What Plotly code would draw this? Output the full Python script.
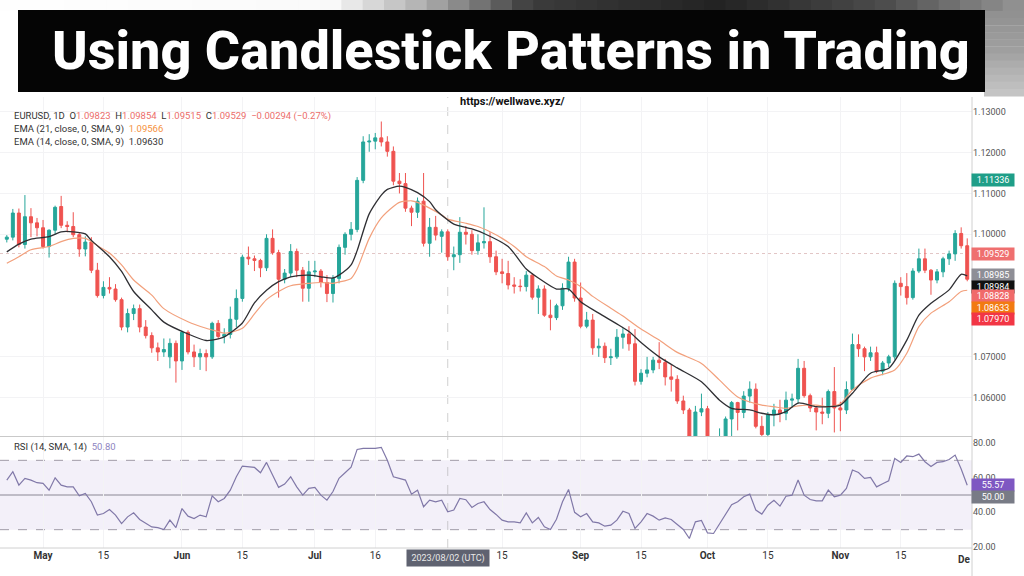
import plotly.graph_objects as go
import pandas as pd

# ------------------------------------------------------------------ data
dates = pd.bdate_range("2023-04-21", "2023-11-30")  # daily EURUSD sessions

opens = [1.0988, 1.0993, 1.1052, 1.0975, 1.1043, 1.1028, 1.1016, 1.0970, 1.1010, 1.1068,
         1.1022, 1.1019, 1.0999, 1.0964, 1.0981, 1.0912, 1.0850, 1.0870, 1.0866, 1.0840,
         1.0773, 1.0806, 1.0818, 1.0773, 1.0752, 1.0722, 1.0712, 1.0700, 1.0733, 1.0690,
         1.0760, 1.0712, 1.0700, 1.0708, 1.0700, 1.0782, 1.0750, 1.0755, 1.0792, 1.0843,
         1.0944, 1.0940, 1.0936, 1.0918, 1.0990, 1.0955, 1.0890, 1.0905, 1.0958, 1.0912,
         1.0868, 1.0908, 1.0910, 1.0882, 1.0855, 1.0892, 1.0968, 1.1000, 1.1012, 1.1132,
         1.1226, 1.1228, 1.1236, 1.1226, 1.1203, 1.1130, 1.1124, 1.1064, 1.1054, 1.1081,
         1.0978, 1.1017, 1.0995, 1.1006, 1.0945, 1.0950, 1.1005, 1.1000, 1.0960, 1.0979,
         1.0982, 1.0945, 1.0908, 1.0904, 1.0876, 1.0873, 1.0872, 1.0900, 1.0846, 1.0866,
         1.0802, 1.0796, 1.0825, 1.0868, 1.0932, 1.0844, 1.0775, 1.0790, 1.0722, 1.0726,
         1.0698, 1.0700, 1.0748, 1.0756, 1.0732, 1.0640, 1.0660, 1.0668, 1.0692, 1.0686,
         1.0651, 1.0645, 1.0592, 1.0570, 1.0505, 1.0565, 1.0573, 1.0478, 1.0470, 1.0505,
         1.0548, 1.0588, 1.0564, 1.0604, 1.0621, 1.0530, 1.0510, 1.0558, 1.0570, 1.0562,
         1.0594, 1.0597, 1.0672, 1.0605, 1.0575, 1.0565, 1.0562, 1.0615, 1.0575, 1.0570,
         1.0620, 1.0730, 1.0720, 1.0700, 1.0710, 1.0665, 1.0685, 1.0700, 1.0880, 1.0872,
         1.0845, 1.0910, 1.0940, 1.0912, 1.0888, 1.0908, 1.0940, 1.0952, 1.1002, 1.0972]

highs = [1.0998, 1.1062, 1.1063, 1.1096, 1.1064, 1.1040, 1.1035, 1.1012, 1.1070, 1.1094,
         1.1032, 1.1054, 1.1003, 1.0995, 1.0993, 1.0930, 1.0885, 1.0895, 1.0878, 1.0845,
         1.0818, 1.0828, 1.0828, 1.0790, 1.0760, 1.0735, 1.0745, 1.0745, 1.0740, 1.0764,
         1.0765, 1.0730, 1.0720, 1.0718, 1.0786, 1.0790, 1.0770, 1.0823, 1.0865, 1.0950,
         1.0970, 1.0948, 1.0940, 1.1000, 1.1012, 1.0962, 1.0915, 1.0976, 1.0965, 1.0920,
         1.0935, 1.0935, 1.0915, 1.0900, 1.0900, 1.0975, 1.1005, 1.1030, 1.1140, 1.1240,
         1.1245, 1.1248, 1.1276, 1.1240, 1.1215, 1.1150, 1.1150, 1.1070, 1.1090, 1.1150,
         1.1040, 1.1045, 1.1012, 1.1012, 1.0970, 1.1042, 1.1020, 1.1010, 1.1000, 1.1066,
         1.1005, 1.0960, 1.0940, 1.0935, 1.0895, 1.0890, 1.0910, 1.0905, 1.0875, 1.0875,
         1.0840, 1.0830, 1.0880, 1.0945, 1.0940, 1.0882, 1.0810, 1.0805, 1.0745, 1.0735,
         1.0720, 1.0768, 1.0770, 1.0775, 1.0768, 1.0670, 1.0700, 1.0700, 1.0736, 1.0695,
         1.0680, 1.0655, 1.0605, 1.0575, 1.0580, 1.0610, 1.0580, 1.0490, 1.0525, 1.0554,
         1.0592, 1.0590, 1.0616, 1.0640, 1.0635, 1.0555, 1.0565, 1.0585, 1.0595, 1.0615,
         1.0610, 1.0695, 1.0690, 1.0610, 1.0580, 1.0600, 1.0620, 1.0675, 1.0590, 1.0640,
         1.0757, 1.0755, 1.0725, 1.0725, 1.0725, 1.0690, 1.0705, 1.0887, 1.0895, 1.0905,
         1.0917, 1.0965, 1.0965, 1.0915, 1.0915, 1.0945, 1.0960, 1.1010, 1.1017, 1.0990]

lows = [1.0980, 1.0985, 1.0968, 1.0965, 1.0993, 1.0995, 1.0965, 1.0943, 1.1000, 1.1015,
        1.1005, 1.0993, 1.0945, 1.0946, 1.0905, 1.0845, 1.0843, 1.0855, 1.0835, 1.0765,
        1.0760, 1.0790, 1.0760, 1.0745, 1.0710, 1.0690, 1.0700, 1.0672, 1.0637, 1.0668,
        1.0706, 1.0675, 1.0668, 1.0665, 1.0695, 1.0745, 1.0733, 1.0745, 1.0773, 1.0835,
        1.0925, 1.0910, 1.0895, 1.0910, 1.0950, 1.0845, 1.0880, 1.0895, 1.0895, 1.0835,
        1.0835, 1.0895, 1.0870, 1.0834, 1.0833, 1.0880, 1.0950, 1.0985, 1.1005, 1.1125,
        1.1202, 1.1208, 1.1215, 1.1190, 1.1120, 1.1100, 1.1055, 1.1020, 1.1040, 1.0970,
        1.0945, 1.0985, 1.0955, 1.0935, 1.0912, 1.0930, 1.0975, 1.0950, 1.0950, 1.0965,
        1.0930, 1.0900, 1.0880, 1.0865, 1.0855, 1.0860, 1.0860, 1.0840, 1.0805, 1.0798,
        1.0765, 1.0790, 1.0815, 1.0860, 1.0835, 1.0770, 1.0770, 1.0705, 1.0700, 1.0685,
        1.0680, 1.0695, 1.0720, 1.0715, 1.0630, 1.0632, 1.0650, 1.0660, 1.0670, 1.0630,
        1.0615, 1.0585, 1.0560, 1.0490, 1.0495, 1.0555, 1.0475, 1.0448, 1.0465, 1.0492,
        1.0482, 1.0520, 1.0550, 1.0588, 1.0525, 1.0495, 1.0505, 1.0530, 1.0540, 1.0545,
        1.0575, 1.0585, 1.0600, 1.0565, 1.0520, 1.0535, 1.0550, 1.0515, 1.0518, 1.0560,
        1.0618, 1.0700, 1.0665, 1.0690, 1.0660, 1.0655, 1.0675, 1.0693, 1.0850, 1.0828,
        1.0840, 1.0905, 1.0905, 1.0852, 1.0880, 1.0895, 1.0925, 1.0935, 1.0965, 1.0885]

closes = [1.0993, 1.1052, 1.0975, 1.1043, 1.1028, 1.1016, 1.0970, 1.1010, 1.1066, 1.1022,
          1.1019, 1.0999, 1.0964, 1.0981, 1.0912, 1.0850, 1.0870, 1.0866, 1.0840, 1.0773,
          1.0806, 1.0818, 1.0773, 1.0752, 1.0722, 1.0712, 1.0718, 1.0733, 1.0690, 1.0760,
          1.0712, 1.0700, 1.0708, 1.0700, 1.0782, 1.0750, 1.0755, 1.0792, 1.0843, 1.0944,
          1.0940, 1.0936, 1.0918, 1.0990, 1.0955, 1.0890, 1.0905, 1.0958, 1.0912, 1.0868,
          1.0908, 1.0910, 1.0882, 1.0855, 1.0892, 1.0968, 1.1000, 1.1012, 1.1132, 1.1226,
          1.1228, 1.1236, 1.1226, 1.1203, 1.1130, 1.1124, 1.1064, 1.1054, 1.1081, 1.0978,
          1.1017, 1.0998, 1.1006, 1.0945, 1.0950, 1.1005, 1.1000, 1.0960, 1.0979, 1.0982,
          1.0945, 1.0908, 1.0904, 1.0876, 1.0873, 1.0872, 1.0900, 1.0846, 1.0866, 1.0802,
          1.0796, 1.0825, 1.0868, 1.0932, 1.0844, 1.0775, 1.0790, 1.0722, 1.0726, 1.0698,
          1.0700, 1.0748, 1.0756, 1.0732, 1.0640, 1.0660, 1.0668, 1.0692, 1.0686, 1.0651,
          1.0645, 1.0592, 1.0570, 1.0505, 1.0565, 1.0573, 1.0478, 1.0470, 1.0505, 1.0548,
          1.0588, 1.0564, 1.0604, 1.0621, 1.0530, 1.0510, 1.0558, 1.0570, 1.0562, 1.0594,
          1.0597, 1.0672, 1.0605, 1.0575, 1.0565, 1.0562, 1.0615, 1.0575, 1.0570, 1.0620,
          1.0730, 1.0720, 1.0700, 1.0710, 1.0665, 1.0685, 1.0700, 1.0880, 1.0872, 1.0845,
          1.0910, 1.0940, 1.0912, 1.0888, 1.0908, 1.0940, 1.0952, 1.1002, 1.0972, 1.0890]

rsi14 = [58.6, 63.4, 55.7, 59.6, 58.6, 57.1, 56.7, 52.8, 59.9, 55.7,
         54.7, 54.7, 49.5, 50.9, 46.1, 38.4, 39.3, 41.6, 38.4, 33.5,
         37.4, 39.7, 35.9, 33.9, 31.6, 31.2, 30.1, 35.5, 31.2, 42.2,
         37.8, 36.4, 38.4, 37.4, 49.5, 46.1, 48.0, 52.8, 60.5, 66.7,
         66.3, 65.9, 62.8, 68.8, 61.5, 54.4, 56.3, 60.5, 54.7, 49.9,
         53.8, 54.4, 49.9, 47.0, 52.0, 59.6, 62.8, 66.0, 76.3, 76.9,
         76.9, 76.9, 77.5, 70.0, 60.5, 59.6, 58.6, 50.5, 52.8, 43.2,
         47.0, 46.1, 47.0, 40.3, 41.3, 48.0, 47.3, 42.8, 45.1, 46.1,
         41.6, 38.8, 35.5, 34.5, 34.5, 34.0, 39.7, 33.9, 37.0, 31.6,
         30.1, 36.0, 46.1, 53.2, 40.0, 37.4, 39.3, 34.5, 33.9, 32.0,
         32.6, 35.5, 40.6, 39.3, 30.7, 34.5, 39.3, 37.8, 35.5, 36.8,
         35.9, 33.0, 30.1, 24.9, 34.5, 35.3, 28.1, 27.8, 33.5, 39.3,
         44.4, 46.1, 49.0, 50.5, 41.3, 39.0, 44.1, 47.0, 43.6, 49.3,
         49.9, 58.6, 49.9, 47.4, 46.6, 46.6, 52.8, 49.0, 49.9, 53.8,
         64.4, 63.0, 59.6, 60.1, 54.7, 56.5, 58.2, 71.1, 68.8, 72.5,
         72.1, 73.6, 69.2, 66.5, 68.8, 69.2, 70.5, 73.0, 65.0, 55.6]

# EMA values at selected sessions (index into dates)
ema14_idx = [0, 2, 4, 7, 9, 11, 13, 14, 17, 19, 21, 24, 26, 30, 33, 35, 36, 39, 41, 43,
             45, 47, 50, 52, 54, 55, 57, 58, 60, 62, 63, 65, 66, 68, 70, 71, 73, 74, 77, 79,
             83, 86, 88, 91, 93, 95, 98, 103, 105, 108, 111, 115, 118, 120, 123, 125, 127, 129, 131, 134,
             136, 138, 140, 143, 146, 149, 151, 153, 156, 158, 159]
ema14_val = [1.0957, 1.0976, 1.0988, 1.0994, 1.1006, 1.1006, 1.1001, 1.0985, 1.0945, 1.0909,
             1.0860, 1.0815, 1.0785, 1.0756, 1.0740, 1.0744, 1.0749, 1.0783, 1.0832, 1.0863,
             1.0884, 1.0896, 1.0900, 1.0896, 1.0893, 1.0900, 1.0925, 1.0960, 1.1050, 1.1096,
             1.1110, 1.1118, 1.1115, 1.1102, 1.1080, 1.1060, 1.1035, 1.1025, 1.1013, 1.1002,
             1.0970, 1.0915, 1.0893, 1.0866, 1.0866, 1.0835, 1.0807, 1.0762, 1.0735, 1.0700,
             1.0673, 1.0639, 1.0594, 1.0574, 1.0570, 1.0562, 1.0558, 1.0566, 1.0587, 1.0578,
             1.0578, 1.0582, 1.0611, 1.0660, 1.0672, 1.0741, 1.0802, 1.0831, 1.0864, 1.0902,
             1.0898]

ema21_idx = [0, 2, 4, 7, 9, 11, 13, 15, 17, 19, 21, 24, 26, 30, 33, 35, 36, 39, 41, 43,
             45, 47, 50, 52, 54, 55, 57, 58, 60, 62, 64, 65, 67, 68, 70, 72, 73, 76, 78, 80,
             82, 84, 86, 89, 91, 93, 95, 97, 100, 102, 105, 108, 111, 115, 118, 121, 125, 127, 129, 131,
             134, 136, 138, 140, 143, 147, 149, 151, 153, 156, 158, 159]
ema21_val = [1.0929, 1.0945, 1.0962, 1.0970, 1.0982, 1.0990, 1.0990, 1.0972, 1.0954, 1.0925,
             1.0888, 1.0851, 1.0818, 1.0786, 1.0770, 1.0762, 1.0758, 1.0770, 1.0805, 1.0840,
             1.0860, 1.0874, 1.0880, 1.0882, 1.0880, 1.0883, 1.0892, 1.0915, 1.0990, 1.1040,
             1.1068, 1.1078, 1.1082, 1.1078, 1.1064, 1.1047, 1.1037, 1.1027, 1.1019, 1.1006,
             1.0990, 1.0970, 1.0945, 1.0921, 1.0898, 1.0888, 1.0872, 1.0848, 1.0819, 1.0800,
             1.0768, 1.0741, 1.0711, 1.0684, 1.0643, 1.0602, 1.0582, 1.0578, 1.0574, 1.0580,
             1.0582, 1.0578, 1.0585, 1.0619, 1.0648, 1.0668, 1.0709, 1.0774, 1.0807, 1.0835,
             1.0860, 1.0863]

tick_dates = ["2023-05-01", "2023-05-15", "2023-06-01", "2023-06-15", "2023-07-03", "2023-07-17",
              "2023-08-15", "2023-09-01", "2023-09-15", "2023-10-02", "2023-10-16", "2023-11-01",
              "2023-11-15"]
tick_text = ["May", "15", "Jun", "15", "Jul", "16", "15", "Sep", "15", "Oct", "15", "Nov", "15"]
month_ticks = ["May", "Jun", "Jul", "Sep", "Oct", "Nov"]

price_ticks = [1.06, 1.07, 1.10, 1.11, 1.12, 1.13]
rsi_ticks = [20, 40, 60, 80]

price_labels = [1.11336, 1.09529, 1.08985, 1.08984, 1.08828, 1.08633, 1.07970]
rsi_labels = [55.57, 50.00]
last_price = 1.09529
crosshair_date = "2023-08-02"

# ------------------------------------------------------------------ geometry helpers
W, H = 1024, 576
ML, MR, MT, MB = 0, 52, 97, 28
PW, PH = W - ML - MR, H - MT - MB


def px_x(p):
    return (p - ML) / PW


def px_y(p):
    return (H - MB - p) / PH


xs = dates + pd.Timedelta(hours=12)
x_start = pd.Timestamp("2023-04-20 09:00")
x_end = pd.Timestamp("2023-12-01 07:00")

GREEN = "#26a69a"
RED = "#ef5350"

fig = go.Figure()

fig.add_trace(go.Candlestick(
    x=xs, open=opens, high=highs, low=lows, close=closes,
    increasing=dict(line=dict(color=GREEN, width=1), fillcolor=GREEN),
    decreasing=dict(line=dict(color=RED, width=1), fillcolor=RED),
    whiskerwidth=0, showlegend=False, hoverinfo="skip",
    xaxis="x", yaxis="y"))

fig.add_trace(go.Scatter(
    x=[xs[i] for i in ema21_idx], y=ema21_val, mode="lines",
    line=dict(color="#f2a07c", width=1.2, shape="spline", smoothing=0.7),
    showlegend=False, hoverinfo="skip", xaxis="x", yaxis="y"))

fig.add_trace(go.Scatter(
    x=[xs[i] for i in ema14_idx], y=ema14_val, mode="lines",
    line=dict(color="#2f2f33", width=1.3, shape="spline", smoothing=0.7),
    showlegend=False, hoverinfo="skip", xaxis="x", yaxis="y"))

fig.add_trace(go.Scatter(
    x=xs, y=rsi14, mode="lines",
    line=dict(color="#8078a8", width=1.2),
    showlegend=False, hoverinfo="skip", xaxis="x2", yaxis="y2"))

# ------------------------------------------------------------------ shapes
shapes = []


def gray(v):
    v = int(max(0, min(255, v)))
    return f"rgb({v},{v},{v})"


def interp(stops, p):
    for (a, va), (b, vb) in zip(stops, stops[1:]):
        if a <= p <= b:
            return va + (vb - va) * (p - a) / (b - a)
    return stops[-1][1]


# banner background: top band gradient
top_stops = [(0, 255), (330, 250), (430, 170), (530, 60), (720, 35), (880, 75), (1024, 150)]
n = 48
for i in range(n):
    a = W * i / n
    b = W * (i + 1) / n
    shapes.append(dict(type="rect", xref="paper", yref="paper",
                       x0=px_x(a), x1=px_x(b) + 0.001, y0=px_y(11), y1=px_y(0),
                       fillcolor=gray(interp(top_stops, (a + b) / 2)), line=dict(width=0),
                       layer="below"))
# right side block
side_stops = [(0, 140), (50, 160), (97, 200)]
m = 12
for i in range(m):
    a = 11 + (96 - 11) * i / m
    b = 11 + (96 - 11) * (i + 1) / m
    shapes.append(dict(type="rect", xref="paper", yref="paper",
                       x0=px_x(984), x1=px_x(W), y0=px_y(b) - 0.001, y1=px_y(a),
                       fillcolor=gray(interp(side_stops, (a + b) / 2)), line=dict(width=0),
                       layer="below"))
# black title box
shapes.append(dict(type="rect", xref="paper", yref="paper",
                   x0=px_x(18), x1=px_x(985), y0=px_y(92), y1=px_y(10),
                   fillcolor="#050505", line=dict(width=0), layer="below"))

# RSI band 30-70
shapes.append(dict(type="rect", xref="paper", yref="y2", x0=0, x1=1, y0=30, y1=70,
                   fillcolor="rgba(126,87,194,0.09)", line=dict(width=0), layer="below"))
for lvl in (30, 70):
    shapes.append(dict(type="line", xref="paper", yref="y2", x0=0, x1=1, y0=lvl, y1=lvl,
                       line=dict(color="#a09ca8", width=1, dash="dash"), layer="below"))
shapes.append(dict(type="line", xref="paper", yref="y2", x0=0, x1=1, y0=50, y1=50,
                   line=dict(color="#8a8794", width=1), layer="below"))

# last price dotted line
shapes.append(dict(type="line", xref="paper", yref="y", x0=0, x1=1, y0=last_price, y1=last_price,
                   line=dict(color="rgba(200,150,150,0.55)", width=1, dash="dot"), layer="below"))

# crosshair vertical line
cx = pd.Timestamp(crosshair_date) + pd.Timedelta(hours=12)
shapes.append(dict(type="line", xref="x", yref="paper", x0=cx, x1=cx, y0=0, y1=1,
                   line=dict(color="rgba(150,150,150,0.45)", width=1, dash="dash"), layer="below"))

# pane separators / axis borders
shapes.append(dict(type="line", xref="paper", yref="paper", x0=0, x1=1, y0=px_y(436.5), y1=px_y(436.5),
                   line=dict(color="#c9c9c9", width=1)))
shapes.append(dict(type="line", xref="paper", yref="paper", x0=0, x1=1, y0=0, y1=0,
                   line=dict(color="#d0d0d0", width=1)))
shapes.append(dict(type="line", xref="paper", yref="paper", x0=1, x1=1, y0=px_y(576), y1=1,
                   line=dict(color="#d0d0d0", width=1)))

# ------------------------------------------------------------------ annotations
FONT = "Roboto, 'Open Sans', sans-serif"
ann = []

ann.append(dict(text="Using Candlestick Patterns in Trading", xref="paper", yref="paper",
                x=px_x(511), y=px_y(51), xanchor="center", yanchor="middle", showarrow=False,
                font=dict(family="Roboto, Inter, sans-serif", size=54, color="white", weight=800)))
ann.append(dict(text="<b>https://wellwave.xyz/</b>", xref="paper", yref="paper",
                x=px_x(512), y=px_y(101.5), xanchor="center", yanchor="middle", showarrow=False,
                font=dict(family=FONT, size=11, color="#111")))

rv = "#ec6d6b"
ann.append(dict(
    text=("EURUSD, 1D  O<span style='color:%s'>1.09823</span>  H<span style='color:%s'>1.09854</span>"
          "  L<span style='color:%s'>1.09515</span>  C<span style='color:%s'>1.09529</span>"
          "  <span style='color:%s'>\u22120.00294 (\u22120.27%%)</span>") % (rv, rv, rv, rv, rv),
    xref="paper", yref="paper", x=px_x(12), y=px_y(116), xanchor="left", yanchor="middle",
    showarrow=False, font=dict(family=FONT, size=9.5, color="#333")))
ann.append(dict(text="EMA (21, close, 0, SMA, 9)  <span style='color:#f5923e'>1.09566</span>",
                xref="paper", yref="paper", x=px_x(12), y=px_y(129), xanchor="left", yanchor="middle",
                showarrow=False, font=dict(family=FONT, size=9.5, color="#333")))
ann.append(dict(text="EMA (14, close, 0, SMA, 9)  1.09630",
                xref="paper", yref="paper", x=px_x(12), y=px_y(142), xanchor="left", yanchor="middle",
                showarrow=False, font=dict(family=FONT, size=9.5, color="#333")))
ann.append(dict(text="RSI (14, SMA, 14)  <span style='color:#8e84c0'>50.80</span>",
                xref="paper", yref="paper", x=px_x(12), y=px_y(447), xanchor="left", yanchor="middle",
                showarrow=False, font=dict(family=FONT, size=9.5, color="#333")))

label_bg = ["#1f9e88", "#ef6f6f", "#8e8e96", "#111111", "#f06a6a", "#f27a12", "#f23645"]
label_shift = [0, 0, 1, -11, -14, -18, -2]
for v, bg, sh in zip(price_labels, label_bg, label_shift):
    ann.append(dict(text="%.5f" % v, xref="paper", yref="y", x=1, y=v, xanchor="left",
                    yanchor="middle", yshift=sh, xshift=-1, showarrow=False, bgcolor=bg,
                    width=40, height=10, borderpad=1,
                    font=dict(family=FONT, size=9, color="white")))
rsi_bg = ["#7e57c2", "#787b86"]
rsi_shift = [0, -2]
for v, bg, sh in zip(rsi_labels, rsi_bg, rsi_shift):
    ann.append(dict(text="%.2f" % v, xref="paper", yref="y2", x=1, y=v, xanchor="left",
                    yanchor="middle", yshift=sh, xshift=-1, showarrow=False, bgcolor=bg,
                    width=40, height=10, borderpad=1,
                    font=dict(family=FONT, size=9, color="white")))

ann.append(dict(text="2023/08/02 (UTC)", xref="x2", yref="paper", x=cx, y=px_y(557.5),
                xanchor="center", yanchor="middle", showarrow=False, bgcolor="#5f6270",
                width=80, height=14, borderpad=1,
                font=dict(family=FONT, size=9, color="#e8e8e8")))
ann.append(dict(text="<b>De</b>", xref="paper", yref="paper", x=1, y=px_y(559),
                xanchor="right", yanchor="middle", showarrow=False,
                font=dict(family=FONT, size=10, color="#333")))

# ------------------------------------------------------------------ layout
ticks_x = [pd.Timestamp(d) + pd.Timedelta(hours=12) for d in tick_dates]
ticks_lbl = ["<b>%s</b>" % t if t in month_ticks else t for t in tick_text]

common_x = dict(type="date", range=[x_start, x_end], rangebreaks=[dict(bounds=["sat", "mon"])],
                showgrid=True, gridcolor="#f3f3f5", zeroline=False, showline=False,
                tickvals=ticks_x, ticktext=ticks_lbl, ticks="", fixedrange=True)

fig.update_layout(
    width=W, height=H,
    margin=dict(l=ML, r=MR, t=MT, b=MB, pad=0),
    paper_bgcolor="white", plot_bgcolor="white",
    font=dict(family=FONT, size=9, color="#444"),
    showlegend=False,
    xaxis=dict(common_x, anchor="y", showticklabels=False, rangeslider=dict(visible=False)),
    xaxis2=dict(common_x, anchor="y2", showticklabels=True,
                tickfont=dict(family=FONT, size=10, color="#333")),
    yaxis=dict(domain=[px_y(436), 1], range=[1.05063, 1.13360], side="right", anchor="x",
               tickvals=price_ticks, ticktext=["%.5f" % t for t in price_ticks],
               showgrid=True, gridcolor="#f3f3f5", zeroline=False, ticks="",
               tickfont=dict(family=FONT, size=9, color="#555")),
    yaxis2=dict(domain=[0, px_y(437)], range=[19.42, 83.46], side="right", anchor="x2",
                tickvals=rsi_ticks, ticktext=["%.2f" % t for t in rsi_ticks],
                showgrid=False, zeroline=False, ticks="",
                tickfont=dict(family=FONT, size=9, color="#555")),
    shapes=shapes,
    annotations=ann,
)

fig.write_html("out.html")
